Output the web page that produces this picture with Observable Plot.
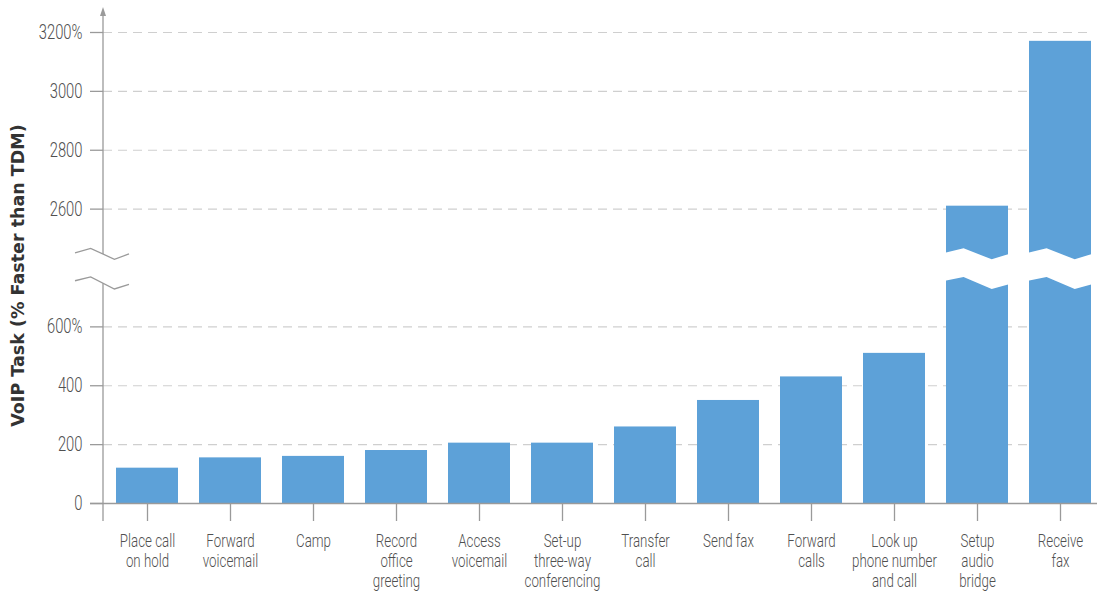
<!DOCTYPE html>
<html><head><meta charset="utf-8">
<script src="https://cdn.jsdelivr.net/npm/d3@7"></script>
<script src="https://cdn.jsdelivr.net/npm/@observablehq/plot@0.6"></script>
<style>
html,body{margin:0;padding:0;background:#fff;}
#chart svg{display:block;overflow:visible;}
g[aria-label="y-axis tick"], g[aria-label="x-axis tick"]{stroke:#9a9a9a;}
g[aria-label="y-axis tick label"], g[aria-label="x-axis tick label"]{fill:#505050;font-weight:300;}
</style></head><body><div id="chart"></div>
<script>
// ---- data ----
const tasks = [
  "Place call\non hold", "Forward\nvoicemail", "Camp", "Record\noffice\ngreeting",
  "Access\nvoicemail", "Set-up\nthree-way\nconferencing", "Transfer\ncall", "Send fax",
  "Forward\ncalls", "Look up\nphone number\nand call", "Setup\naudio\nbridge", "Receive\nfax"
];
const speedup = [120, 155, 160, 180, 205, 205, 260, 350, 430, 510, 2610, 3170];
const yTickValues = [0, 200, 400, 600, 2600, 2800, 3000, 3200];
const yTickLabels = ["0", "200", "400", "600%", "2600", "2800", "3000", "3200%"];
const yTitle = "VoIP Task (% Faster than TDM)";

// broken axis: actual values between breakStart and breakEnd are cut out
const breakStart = 700, breakEnd = 2300;
const toDisplay = v => v > breakStart ? v - (breakEnd - breakStart) : v;

// zig-zag break shape (display units), as fractions across the width
const breakFrac = [0, 0.29, 0.73, 1];
const breakTop = [850, 865, 828, 846];
const breakBottom = [755, 768, 727, 743];

const data = tasks.map((t, i) => ({task: t, value: speedup[i], display: toDisplay(speedup[i])}));
const tickDisplay = yTickValues.map(toDisplay);
const tickLabel = new Map(tickDisplay.map((d, i) => [d, yTickLabels[i]]));

const font = 'Roboto, "DejaVu Sans", sans-serif';

const plot = Plot.plot({
  width: 1097, height: 596,
  marginTop: 32, marginBottom: 93, marginLeft: 103, marginRight: 4,
  style: {fontFamily: font, background: "#fff"},
  x: {type: "band", domain: tasks, range: [103.6, 1103.4], paddingInner: 0.25, paddingOuter: 0.125, axis: null, label: null},
  y: {domain: [0, 1600], axis: null, label: null},
  marks: [
    Plot.gridY(tickDisplay.filter(d => d > 0), {stroke: "#cfcfcf", strokeOpacity: 1, strokeWidth: 1.2, strokeDasharray: "9,6"}),
    Plot.barY(data, {x: "task", y: "display", fill: "#5da1d8"}),
    Plot.ruleY([0], {stroke: "#9a9a9a", strokeWidth: 1.3, insetLeft: -13, insetRight: -4}),
    Plot.axisY(tickDisplay, {tickFormat: d => tickLabel.get(d), tickSize: 13, tickPadding: 8, fontSize: 20, strokeWidth: 1.3}),
    Plot.axisX(tasks, {tickSize: 18, tickPadding: 11, fontSize: 18, lineHeight: 1.12, strokeWidth: 1.3, tickFormat: d => d})
  ]
});
document.getElementById("chart").appendChild(plot);

// condensed look for tick labels
d3.select(plot).selectAll('g[aria-label="y-axis tick label"] text')
  .attr("transform", function() { return (this.getAttribute("transform") || "") + " scale(0.74,1)"; });
d3.select(plot).selectAll('g[aria-label="x-axis tick label"] text')
  .attr("transform", function() { return (this.getAttribute("transform") || "") + " scale(0.74,1)"; });

// ---- decorations derived from scales ----
const xs = plot.scale("x"), ys = plot.scale("y");
const svg = d3.select(plot);
const bw = xs.bandwidth;
const y = v => ys.apply(v);
const axisX0 = 103;

// white breaks across the tall bars
data.filter(d => d.value > breakStart).forEach(d => {
  const x0 = xs.apply(d.task) - 1, w = bw + 2;
  const top = breakFrac.map((f, i) => [x0 + f * w, y(breakTop[i])]);
  const bot = breakFrac.map((f, i) => [x0 + f * w, y(breakBottom[i])]).reverse();
  svg.append("path").attr("d", "M" + top.concat(bot).map(p => p.join(",")).join("L") + "Z").attr("fill", "#fff");
});

// y-axis line with a gap and zig-zag marks
const axL = axisX0 - 28, axW = 54;
const interp = (arr, f) => {
  for (let i = 1; i < breakFrac.length; i++) if (f <= breakFrac[i]) {
    const t = (f - breakFrac[i - 1]) / (breakFrac[i] - breakFrac[i - 1]);
    return arr[i - 1] + t * (arr[i] - arr[i - 1]);
  }
  return arr[arr.length - 1];
};
const fAx = (axisX0 - axL) / axW;
const g = svg.append("g").attr("stroke", "#9a9a9a").attr("stroke-width", 1.3).attr("fill", "none");
g.append("line").attr("x1", axisX0).attr("x2", axisX0).attr("y1", y(interp(breakTop, fAx))).attr("y2", 12);
g.append("line").attr("x1", axisX0).attr("x2", axisX0).attr("y1", y(interp(breakBottom, fAx))).attr("y2", y(0) + 18);
[breakTop, breakBottom].forEach(arr => {
  g.append("path").attr("d", "M" + breakFrac.map((f, i) => [axL + f * axW, y(arr[i])].join(",")).join("L"));
});
svg.append("path").attr("d", `M${axisX0},7L${axisX0 - 3},16L${axisX0 + 3},16Z`).attr("fill", "#9a9a9a");

// y-axis title
svg.append("text")
  .attr("transform", `translate(24,${(32 + 503) / 2 + 8}) rotate(-90)`)
  .attr("text-anchor", "middle")
  .attr("font-family", '"DejaVu Sans", Verdana, sans-serif')
  .attr("font-weight", "bold").attr("font-size", 17.5).attr("fill", "#333")
  .text(yTitle);
</script></body></html>
